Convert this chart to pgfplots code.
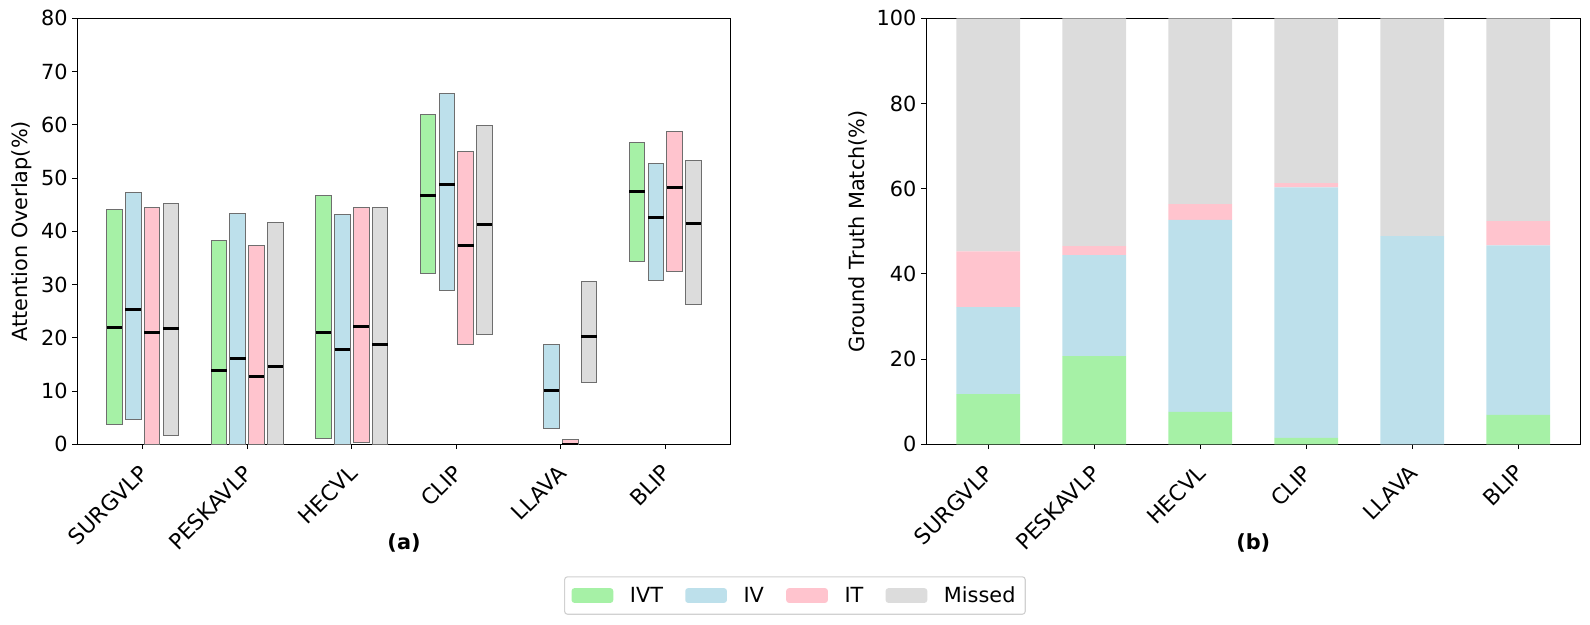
\documentclass[border=0pt]{standalone}
\usepackage{pgfplots}
\pgfplotsset{compat=1.18}
\usepackage{pgfplotstable}
\usepgfplotslibrary{statistics}
\usepackage{fontspec}
\setmainfont{DejaVu Sans}

\definecolor{cIVT}{HTML}{A6F1A6}
\definecolor{cIV}{HTML}{BDE0EB}
\definecolor{cIT}{HTML}{FFC4CE}
\definecolor{cMiss}{HTML}{DCDCDC}
\definecolor{edgegray}{HTML}{6E6E6E}

% range bars (a): low, median, high per model
\pgfplotstableread{
row low med high
0 3.75 22.0 44.1
1 0 13.9 38.3
2 1.1 21.0 46.8
3 32.1 46.8 62.0
4 0 0 0
5 34.4 47.5 56.7
}\ivtrange
\pgfplotstableread{
row low med high
0 4.7 25.35 47.3
1 0 16.15 43.4
2 0 17.8 43.2
3 28.9 48.8 65.9
4 3.0 10.1 18.8
5 30.8 42.6 52.8
}\ivrange
\pgfplotstableread{
row low med high
0 0 21.0 44.5
1 0 12.8 37.4
2 0.4 22.2 44.5
3 18.8 37.4 55.0
4 0 0 0.94
5 32.5 48.3 58.8
}\itrange
\pgfplotstableread{
row low med high
0 1.7 21.8 45.26
1 0 14.6 41.7
2 0 18.8 44.5
3 20.7 41.3 59.9
4 11.6 20.3 30.6
5 26.3 41.5 53.3
}\missrange

% stacked (b)
\pgfplotstableread{
x ivt iv it missed
0 11.8 20.4 13.1 54.7
1 20.7 23.7 2.1 53.5
2 7.6 45.1 3.7 43.6
3 1.5 58.8 1.0 38.7
4 0 48.9 0 51.1
5 6.9 39.8 5.7 47.6
}\gtmatch

\newcommand{\rangebars}[4]{%
  \pgfplotsinvokeforeach{#4}{%
    \pgfplotstablegetelem{##1}{low}\of{#1}\let\rlo\pgfplotsretval
    \pgfplotstablegetelem{##1}{med}\of{#1}\let\rmed\pgfplotsretval
    \pgfplotstablegetelem{##1}{high}\of{#1}\let\rhi\pgfplotsretval
    \edef\doplot{\noexpand\addplot[boxplot prepared={draw direction=y, draw position=##1#2,
        lower whisker=\rlo, lower quartile=\rlo, median=\rmed,
        upper quartile=\rhi, upper whisker=\rhi},
      fill=#3, draw=edgegray, line width=0.7pt] coordinates {};}%
    \doplot
  }%
}

\pgfplotsset{
  common/.style={
    scale only axis,
    height=306.7pt,
    axis line style={line width=0.8pt},
    tick style={line width=0.8pt, black},
    major tick length=3.5pt,
    tick align=outside,
    xtick pos=left, ytick pos=left,
    tick label style={font=\fontsize{15}{18}\selectfont},
    label style={font=\fontsize{15}{18}\selectfont},
    /pgf/number format/assume math mode=true,
    xtick={0,...,5},
    xticklabels={SURGVLP,PESKAVLP,HECVL,CLIP,LLAVA,BLIP},
    xticklabel style={rotate=45, anchor=north east, xshift=-6pt, yshift=-1.5pt,
      font=\fontsize{15.6}{18}\selectfont},
    ymin=0,
  },
  patchlegend/.style={legend image code/.code={\fill[##1] (0pt,-5.3pt) rectangle (30pt,5.3pt);}},
}

\begin{document}
\begin{tikzpicture}
\path[use as bounding box] (0,0) rectangle (1144.8pt,449.3pt);

\begin{axis}[common,
  at={(55.7pt,129.4pt)}, anchor=south west,
  width=470.4pt,
  xmin=-0.625, xmax=5.625,
  ymax=80, ytick={0,10,...,80},
  ylabel={Attention Overlap(\%)},
  xlabel={\bfseries (a)},
  xlabel style={at={(axis description cs:0.5,-0.2305)}, anchor=center},
  boxplot/draw direction=y,
  boxplot/box extend=0.15,
  boxplot/draw/lower whisker/.code={},
  boxplot/draw/upper whisker/.code={},
  boxplot/every median/.style={black, line width=2.2pt},
]
\rangebars{\ivtrange}{-0.27}{cIVT}{0,1,2,3,5}
\rangebars{\ivrange}{-0.09}{cIV}{0,...,5}
\rangebars{\itrange}{+0.09}{cIT}{0,...,5}
\rangebars{\missrange}{+0.27}{cMiss}{0,...,5}
\end{axis}

\begin{axis}[common,
  at={(666.9pt,129.4pt)}, anchor=south west,
  width=470.9pt,
  xmin=-0.585, xmax=5.585,
  ymax=100, ytick={0,20,...,100},
  ylabel={Ground Truth Match(\%)},
  xlabel={\bfseries (b)},
  xlabel style={at={(axis description cs:0.5,-0.2305)}, anchor=center},
  ybar stacked, bar width=0.6,
  legend style={at={(-0.2008,-0.355)}, anchor=center, legend columns=4,
    draw=black!18, rounded corners=2pt, line width=0.8pt,
    font=\fontsize{15}{18}\selectfont, inner xsep=5pt, inner ysep=5pt,
    /tikz/every odd column/.append style={column sep=10pt},
    /tikz/every even column/.append style={column sep=14pt}},
]
\addplot[fill=cIVT, draw=none, patchlegend] table[x=x, y=ivt]{\gtmatch};
\addlegendentry{IVT}
\addplot[fill=cIV, draw=none, patchlegend] table[x=x, y=iv]{\gtmatch};
\addlegendentry{IV}
\addplot[fill=cIT, draw=none, patchlegend] table[x=x, y=it]{\gtmatch};
\addlegendentry{IT}
\addplot[fill=cMiss, draw=none, patchlegend] table[x=x, y=missed]{\gtmatch};
\addlegendentry{Missed}
\end{axis}
\end{tikzpicture}
\end{document}
